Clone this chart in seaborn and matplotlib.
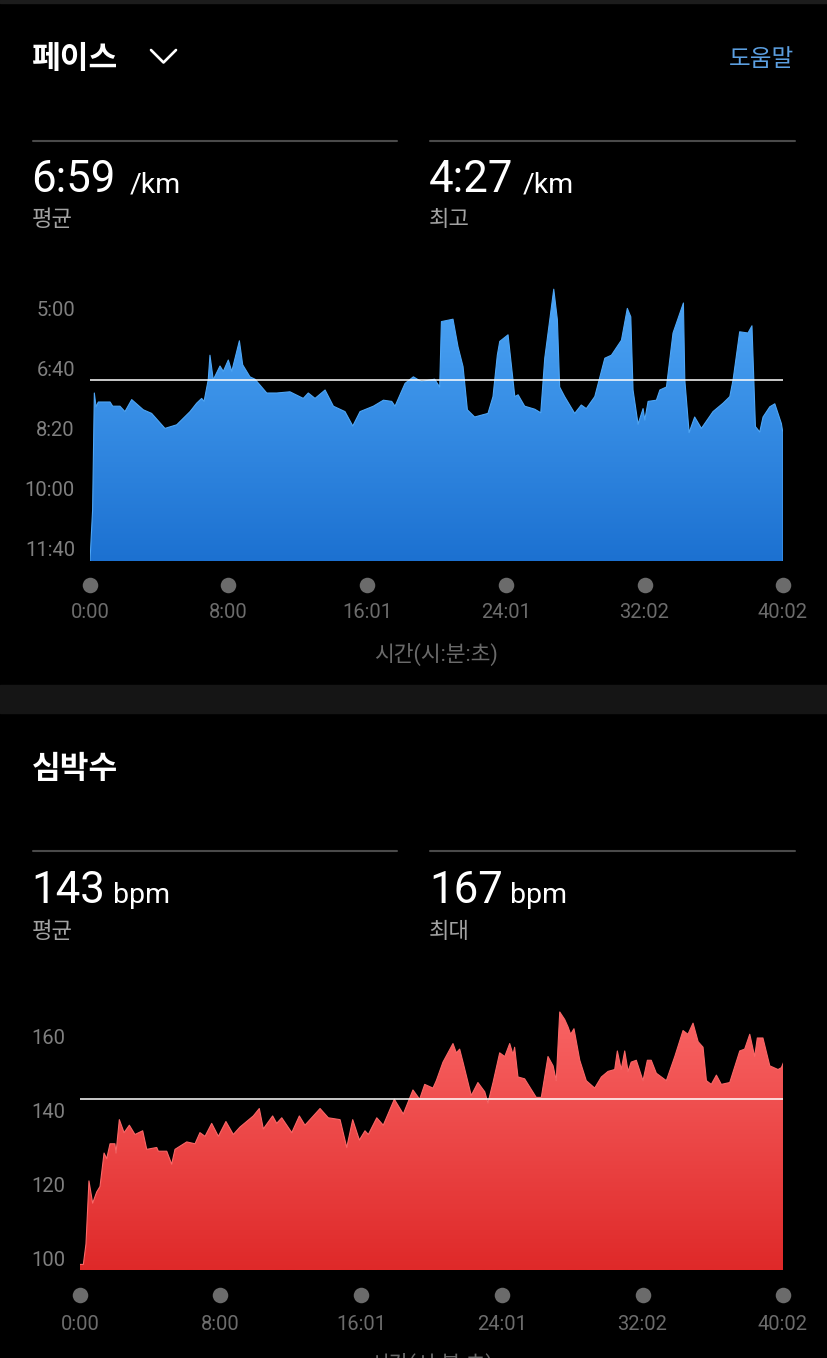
import numpy as np
import pandas as pd
import matplotlib
matplotlib.use("Agg")
import matplotlib.pyplot as plt
from matplotlib.colors import LinearSegmentedColormap
from matplotlib.lines import Line2D
from matplotlib.patches import Rectangle
import seaborn as sns

# elapsed time (minutes) and pace (seconds per km)
pace_min = [0.0, 0.15, 0.25, 0.35, 0.48, 1.16, 1.31, 1.73, 2.02, 2.41,
            3.08, 3.56, 4.33, 5.01, 5.78, 6.16, 6.45, 6.59, 6.83, 6.93,
            7.12, 7.51, 7.70, 7.99, 8.19, 8.63, 8.82, 9.24, 9.53, 10.21,
            10.79, 11.55, 12.32, 12.61, 13.00, 13.58, 14.06, 14.73, 15.18, 15.60,
            16.37, 16.95, 17.43, 17.62, 18.20, 18.68, 19.14, 19.91, 20.20, 20.30,
            20.97, 21.26, 21.55, 21.80, 22.22, 22.99, 23.28, 23.53, 23.67, 24.15,
            24.54, 24.73, 25.11, 25.69, 26.04, 26.27, 26.79, 27.00, 27.13, 27.42,
            28.00, 28.38, 28.67, 29.16, 29.74, 30.12, 30.70, 31.04, 31.24, 31.37,
            31.66, 31.95, 32.05, 32.24, 32.72, 32.92, 33.30, 33.68, 34.28, 34.36,
            34.61, 34.93, 35.32, 35.99, 36.57, 36.96, 37.15, 37.53, 38.01, 38.24,
            38.44, 38.69, 38.88, 39.27, 39.56, 39.94, 40.03, 40.04]
pace_sec = [720, 635, 440, 463, 455, 455, 462, 462, 471, 451,
            468, 474, 499, 493, 471, 457, 449, 454, 418, 377,
            418, 395, 404, 385, 404, 353, 393, 413, 417, 440,
            440, 438, 449, 440, 449, 435, 462, 471, 495, 471,
            462, 452, 454, 462, 424, 413, 421, 417, 430, 321,
            317, 363, 396, 468, 480, 474, 446, 377, 354, 343,
            446, 443, 462, 467, 473, 382, 267, 318, 430, 446,
            474, 460, 466, 446, 382, 377, 352, 299, 313, 435,
            492, 466, 485, 454, 452, 435, 430, 340, 290, 418,
            506, 480, 499, 471, 457, 446, 418, 338, 340, 328,
            496, 505, 480, 463, 458, 491, 507, 720]

# elapsed time (minutes) and heart rate (bpm)
hr_min = [0.0, 0.19, 0.34, 0.51, 0.72, 0.95, 1.14, 1.37, 1.52, 1.71,
          1.99, 2.05, 2.24, 2.51, 2.81, 3.13, 3.57, 3.80, 4.37, 4.46,
          4.94, 5.22, 5.41, 6.08, 6.55, 6.83, 7.12, 7.50, 7.88, 8.31,
          8.73, 9.11, 9.87, 10.21, 10.44, 10.97, 11.20, 11.49, 12.06, 12.49,
          12.81, 13.67, 14.14, 14.81, 15.19, 15.53, 15.91, 16.23, 16.42, 16.90,
          17.27, 17.90, 18.41, 18.96, 19.34, 19.63, 20.10, 20.29, 20.67, 21.24,
          21.43, 21.62, 21.81, 22.28, 22.66, 23.05, 23.23, 23.52, 23.90, 24.19,
          24.47, 24.66, 24.75, 24.94, 25.32, 25.98, 26.27, 26.65, 26.94, 27.12,
          27.32, 27.60, 27.79, 27.94, 28.13, 28.46, 28.83, 29.31, 29.69, 30.07,
          30.45, 30.60, 30.82, 31.02, 31.21, 31.39, 31.68, 32.06, 32.31, 32.53,
          32.82, 33.39, 33.87, 34.34, 34.62, 34.91, 35.20, 35.48, 35.67, 35.95,
          36.24, 36.52, 37.00, 37.57, 37.85, 38.14, 38.42, 38.57, 38.89, 39.28,
          39.75, 39.94, 40.07]
hr_bpm = [98.5, 98.5, 104, 121, 115, 118, 119.5, 128.5, 127, 131,
          131, 128.5, 137.5, 134, 136, 133.5, 134.5, 129.5, 130, 129,
          129, 125.5, 129.5, 131.5, 131, 134, 133, 136.5, 133, 137,
          133.5, 135.5, 138.5, 140.5, 135, 138.5, 136.5, 138, 134, 138.5,
          136, 140.5, 138, 137.5, 130, 137.5, 132, 134.5, 133.5, 138,
          136, 143, 139, 145.5, 143, 147, 146, 148, 153, 158,
          155.5, 156.5, 153, 144, 147.5, 145, 142, 147.5, 155.5, 154.5,
          158, 155, 157, 149, 148.5, 143.5, 143.5, 154.5, 152, 148,
          166.5, 164.5, 162.5, 160.5, 162, 153.5, 148, 146, 149, 150.5,
          151, 156, 151, 156, 150.5, 153, 153.5, 148, 153.5, 153.5,
          150, 148, 154.5, 161.5, 160.5, 163.5, 158.5, 157, 148, 147,
          149.5, 147, 147.5, 156, 156.5, 160.5, 154.5, 159.5, 159.5, 152,
          151, 151.5, 153]

x_ticks = [0, 8.0, 16.017, 24.017, 32.033, 40.033]
x_labels = ["0:00", "8:00", "16:01", "24:01", "32:02", "40:02"]
pace_ticks = [300, 400, 500, 600, 700]
pace_labels = ["5:00", "6:40", "8:20", "10:00", "11:40"]
hr_ticks = [100, 120, 140, 160]
hr_labels = ["100", "120", "140", "160"]
pace_avg, pace_best = 419, 267
hr_avg, hr_max = 143, 167

W, H = 828, 1358

sns.set_theme(style="dark", rc={"axes.facecolor": "black", "figure.facecolor": "black"})
plt.rcParams["font.family"] = ["Roboto", "Noto Sans CJK KR", "DejaVu Sans"]


def px_axes(fig, left, top, right, bottom):
    return fig.add_axes([left / W, 1 - bottom / H, (right - left) / W, (bottom - top) / H])


def txt(fig, x, y, s, **kw):
    fig.text(x / W, 1 - y / H, s, **kw)


def fig_line(fig, xs, ys, **kw):
    fig.add_artist(Line2D([x / W for x in xs], [1 - y / H for y in ys],
                          transform=fig.transFigure, **kw))


def gradient_area(ax, t, v, base, ylim, top_col, bot_col):
    df = pd.DataFrame({"t": t, "v": v})
    poly = ax.fill_between(df["t"], df["v"], base, color="none", lw=0)
    cmap = LinearSegmentedColormap.from_list("g", [top_col, bot_col])
    grad = np.linspace(0, 1, 256).reshape(-1, 1)
    im = ax.imshow(grad, cmap=cmap, aspect="auto", origin="upper",
                   extent=(0, 40.2, ylim[0], ylim[1]), zorder=1)
    im.set_clip_path(poly.get_paths()[0], ax.transData)
    sns.lineplot(data=df, x="t", y="v", ax=ax, color=top_col, lw=0.8,
                 estimator=None, sort=False, zorder=2)


def style_axis(ax, ylim, yticks, ylabels, ypad, xpad, dot_y):
    ax.set_xlim(0, 40.033)
    ax.set_ylim(*ylim)
    ax.set_yticks(yticks, ylabels)
    ax.set_xticks(x_ticks, x_labels)
    ax.tick_params(axis="y", length=0, pad=ypad, labelsize=14.5, labelcolor="#7f7f7f")
    ax.tick_params(axis="x", length=0, pad=xpad, labelsize=14.5, labelcolor="#6c6c6c")
    ax.set_xlabel("")
    ax.set_ylabel("")
    ax.grid(False)
    for s in ax.spines.values():
        s.set_visible(False)
    ax.scatter(x_ticks, [dot_y] * len(x_ticks), transform=ax.get_xaxis_transform(),
               s=125, color="#6b6b6b", clip_on=False, zorder=3, linewidths=0)


fig = plt.figure(figsize=(W / 100, H / 100), dpi=100)
fig.add_artist(Rectangle((0, 1 - 3 / H), 1, 3 / H, transform=fig.transFigure, color="#1c1c1c"))
fig.add_artist(Rectangle((0, 1 - 713 / H), 1, 28 / H, transform=fig.transFigure, color="#151515"))

# ---- pace section ----
txt(fig, 32, 59, "페이스", color="white", fontsize=22.5, fontweight="bold", va="center")
fig_line(fig, [151, 163.5, 176], [50, 62.5, 50], color="white", lw=1.9, solid_capstyle="round")
txt(fig, 794, 59, "도움말", color="#5c9fe0", fontsize=17, va="center", ha="right")
fig_line(fig, [33, 397], [141, 141], color="#4a4a4a", lw=1.5)
fig_line(fig, [430, 795], [141, 141], color="#4a4a4a", lw=1.5)
txt(fig, 31, 192, f"{pace_avg // 60}:{pace_avg % 60:02d}", color="white", fontsize=31.5, va="baseline")
txt(fig, 130, 192, "/km", color="white", fontsize=20.5, va="baseline")
txt(fig, 32, 221, "평균", color="#a3a3a3", fontsize=16, va="center")
txt(fig, 429, 192, f"{pace_best // 60}:{pace_best % 60:02d}", color="white", fontsize=31.5, va="baseline")
txt(fig, 523, 192, "/km", color="white", fontsize=20.5, va="baseline")
txt(fig, 429, 221, "최고", color="#a3a3a3", fontsize=16, va="center")

ax1 = px_axes(fig, 90, 285, 783, 561)
gradient_area(ax1, pace_min, pace_sec, 720, (720, 260), "#4ea6f6", "#1c71d1")
ax1.axhline(pace_avg, color="white", lw=1.1, zorder=5)
style_axis(ax1, (720, 260), pace_ticks, pace_labels, 10.8, 30, -24 / 276)
txt(fig, 436, 654, "시간(시:분:초)", color="#6a6a6a", fontsize=15.5, ha="center", va="center")

# ---- heart rate section ----
txt(fig, 32, 769, "심박수", color="white", fontsize=22.5, fontweight="bold", va="center")
fig_line(fig, [33, 397], [851, 851], color="#4a4a4a", lw=1.5)
fig_line(fig, [430, 795], [851, 851], color="#4a4a4a", lw=1.5)
txt(fig, 31, 903, str(hr_avg), color="white", fontsize=31.5, va="baseline")
txt(fig, 113, 903, "bpm", color="white", fontsize=20.5, va="baseline")
txt(fig, 32, 932, "평균", color="#a3a3a3", fontsize=16, va="center")
txt(fig, 429, 903, str(hr_max), color="white", fontsize=31.5, va="baseline")
txt(fig, 510, 903, "bpm", color="white", fontsize=20.5, va="baseline")
txt(fig, 429, 932, "최대", color="#a3a3a3", fontsize=16, va="center")

ax2 = px_axes(fig, 80, 999, 783, 1270)
gradient_area(ax2, hr_min, hr_bpm, 97, (97, 170), "#fa6767", "#df2929")
ax2.axhline(hr_avg, color="white", lw=1.1, zorder=5)
style_axis(ax2, (97, 170), hr_ticks, hr_labels, 10.8, 32.5, -25 / 271)
txt(fig, 431, 1364, "시간(시:분:초)", color="#6a6a6a", fontsize=15.5, ha="center", va="center")

fig.savefig("out.png", dpi=100, facecolor="black")
